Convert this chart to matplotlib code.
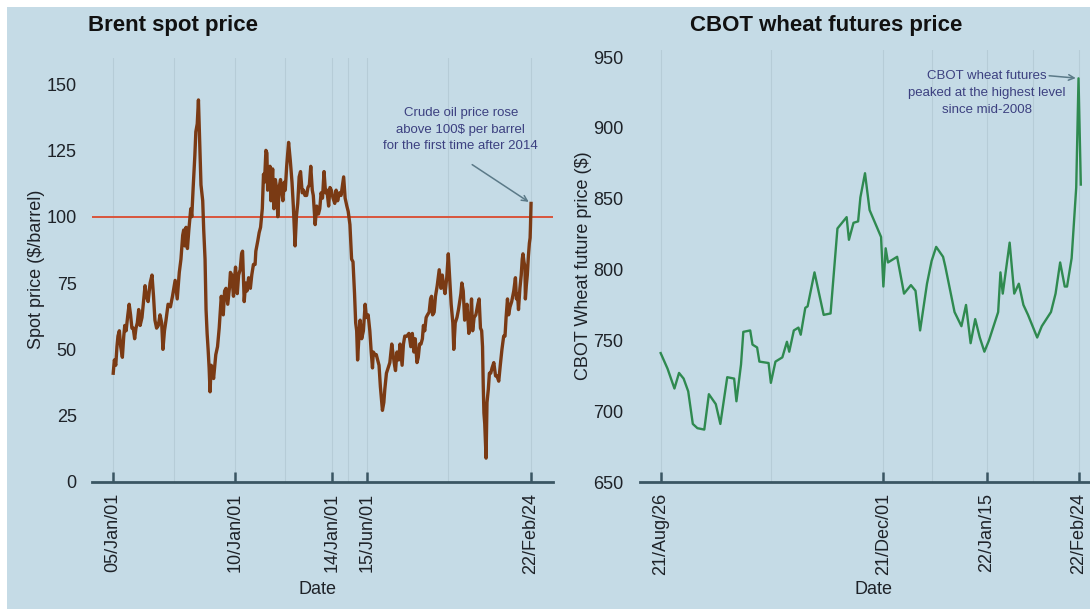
import matplotlib
matplotlib.use("Agg")
import matplotlib.pyplot as plt
from matplotlib.patches import Rectangle
import pandas as pd

plt.rcParams['font.family'] = ['Liberation Sans', 'DejaVu Sans']

# ---------------- data ----------------
brent_dates = [
    "2005-01-03", "2005-01-20", "2005-02-10", "2005-02-28", "2005-03-15", "2005-04-05", "2005-04-25",
    "2005-05-20", "2005-06-10", "2005-06-25", "2005-07-15", "2005-08-10", "2005-08-30", "2005-09-20",
    "2005-10-10", "2005-10-30", "2005-11-20", "2005-12-10", "2005-12-30",
    "2006-01-20", "2006-02-10", "2006-03-10", "2006-04-10", "2006-04-25", "2006-05-15", "2006-06-10",
    "2006-07-10", "2006-08-07", "2006-08-30", "2006-09-20", "2006-10-15", "2006-11-10", "2006-12-05",
    "2006-12-30",
    "2007-01-18", "2007-02-10", "2007-03-05", "2007-04-05", "2007-05-10", "2007-06-10", "2007-07-20",
    "2007-08-20", "2007-09-20", "2007-10-15", "2007-11-10", "2007-11-25", "2007-12-10", "2007-12-30",
    "2008-01-20", "2008-02-10", "2008-03-10", "2008-03-25", "2008-04-15", "2008-05-10", "2008-05-25",
    "2008-06-15", "2008-07-03", "2008-07-20", "2008-08-10", "2008-09-05", "2008-09-20", "2008-10-10",
    "2008-10-25", "2008-11-10", "2008-11-25", "2008-12-10", "2008-12-24",
    "2009-01-10", "2009-01-25", "2009-02-15", "2009-03-05", "2009-03-20", "2009-04-15", "2009-05-10",
    "2009-06-10", "2009-07-10", "2009-07-30", "2009-08-20", "2009-09-15", "2009-10-10", "2009-10-25",
    "2009-11-15", "2009-12-10", "2009-12-30",
    "2010-01-10", "2010-02-05", "2010-02-25", "2010-03-20", "2010-04-10", "2010-04-25", "2010-05-20",
    "2010-06-10", "2010-06-30", "2010-07-25", "2010-08-20", "2010-09-10", "2010-10-05", "2010-10-30",
    "2010-11-10", "2010-12-10", "2010-12-30",
    "2011-01-20", "2011-02-15", "2011-03-05", "2011-03-20", "2011-04-10", "2011-04-25", "2011-05-06",
    "2011-05-25", "2011-06-10", "2011-06-25", "2011-07-20", "2011-08-08", "2011-08-30", "2011-09-20",
    "2011-10-05", "2011-10-25", "2011-11-15", "2011-12-05", "2011-12-20",
    "2012-01-10", "2012-01-25", "2012-02-15", "2012-03-05", "2012-03-15", "2012-04-10", "2012-05-05",
    "2012-05-25", "2012-06-20", "2012-07-10", "2012-07-30", "2012-08-20", "2012-09-10", "2012-10-05",
    "2012-10-25", "2012-11-15", "2012-12-10", "2012-12-30",
    "2013-01-20", "2013-02-10", "2013-03-05", "2013-03-20", "2013-04-17", "2013-05-10", "2013-06-05",
    "2013-06-25", "2013-07-15", "2013-08-05", "2013-08-28", "2013-09-20", "2013-10-10", "2013-11-05",
    "2013-11-25", "2013-12-15",
    "2014-01-10", "2014-02-05", "2014-02-25", "2014-03-20", "2014-04-15", "2014-05-10", "2014-06-18",
    "2014-07-10", "2014-08-05", "2014-08-25", "2014-09-20", "2014-10-15", "2014-11-05", "2014-11-28",
    "2014-12-15", "2014-12-30",
    "2015-01-13", "2015-02-05", "2015-02-20", "2015-03-15", "2015-04-10", "2015-05-06", "2015-05-25",
    "2015-06-20", "2015-07-15", "2015-08-05", "2015-08-24", "2015-09-05", "2015-10-01", "2015-10-20",
    "2015-11-10", "2015-11-30", "2015-12-20",
    "2016-01-20", "2016-02-10", "2016-02-25", "2016-03-20", "2016-04-15", "2016-05-10", "2016-06-08",
    "2016-06-28", "2016-07-20", "2016-08-03", "2016-08-25", "2016-09-20", "2016-10-10", "2016-11-10",
    "2016-11-30", "2016-12-20",
    "2017-01-20", "2017-02-20", "2017-03-20", "2017-04-12", "2017-05-05", "2017-05-25", "2017-06-21",
    "2017-07-10", "2017-07-30", "2017-08-20", "2017-09-10", "2017-09-25", "2017-10-15", "2017-11-05",
    "2017-11-25", "2017-12-20",
    "2018-01-10", "2018-01-25", "2018-02-10", "2018-03-05", "2018-03-25", "2018-04-20", "2018-05-20",
    "2018-06-15", "2018-07-05", "2018-07-25", "2018-08-15", "2018-09-10", "2018-10-03", "2018-10-25",
    "2018-11-15", "2018-12-10", "2018-12-24",
    "2019-01-15", "2019-02-10", "2019-03-05", "2019-04-10", "2019-04-24", "2019-05-15", "2019-06-05",
    "2019-06-25", "2019-07-10", "2019-08-07", "2019-08-30", "2019-09-16", "2019-09-25", "2019-10-03",
    "2019-10-25", "2019-11-20", "2019-12-20",
    "2020-01-08", "2020-01-28", "2020-02-15", "2020-02-28", "2020-03-10", "2020-03-20", "2020-04-01",
    "2020-04-21", "2020-05-05", "2020-05-25", "2020-06-10", "2020-06-30", "2020-07-20", "2020-08-15",
    "2020-09-10", "2020-10-01", "2020-10-28", "2020-11-20", "2020-12-15",
    "2021-01-10", "2021-01-30", "2021-02-15", "2021-03-08", "2021-03-25", "2021-04-15", "2021-05-10",
    "2021-06-10", "2021-06-25", "2021-07-05", "2021-07-20", "2021-08-05", "2021-08-20", "2021-09-10",
    "2021-09-30", "2021-10-15", "2021-10-26", "2021-11-10", "2021-11-25", "2021-12-01", "2021-12-15",
    "2021-12-30",
    "2022-01-15", "2022-01-30", "2022-02-10", "2022-02-15", "2022-02-24",
]
brent_price = [
    41, 46, 44, 51, 55, 57, 51, 47, 55, 59, 57, 63, 67, 63, 58, 58, 54, 58, 60,
    65, 59, 62, 70, 74, 70, 68, 75, 78, 70, 61, 58, 59, 63, 60,
    50, 57, 61, 67, 66, 70, 76, 69, 79, 84, 93, 95, 89, 96,
    88, 95, 103, 100, 111, 123, 132, 135, 144, 130, 112, 106, 95, 84, 65, 56, 50, 43, 34,
    44, 43, 39, 44, 48, 51, 58, 70, 63, 72, 73, 67, 73, 79, 78, 70, 78,
    81, 71, 78, 80, 86, 87, 68, 75, 72, 77, 73, 78, 82, 82, 87, 91, 94,
    96, 103, 116, 113, 125, 124, 110, 115, 119, 106, 118, 103, 114, 110, 100, 111, 114, 109, 106,
    113, 110, 119, 125, 128, 121, 113, 104, 89, 100, 105, 115, 117, 109, 110, 108, 108, 111,
    112, 119, 110, 108, 97, 104, 101, 103, 109, 107, 117, 109, 110, 104, 111, 110,
    107, 105, 110, 106, 109, 108, 115, 107, 104, 102, 97, 84, 83, 71, 60, 57,
    46, 56, 61, 54, 57, 67, 62, 63, 57, 49, 43, 49, 48, 48, 46, 44, 36,
    27, 30, 35, 41, 43, 45, 52, 48, 44, 42, 49, 46, 52, 44, 52, 55,
    55, 56, 51, 56, 49, 54, 45, 47, 52, 52, 54, 59, 57, 62, 63, 64,
    69, 70, 63, 64, 70, 74, 80, 73, 78, 74, 71, 77, 86, 76, 67, 60, 50,
    60, 62, 65, 71, 75, 72, 61, 65, 67, 56, 60, 69, 63, 57, 62, 63, 67,
    69, 58, 57, 51, 36, 26, 22, 9, 30, 35, 41, 41, 43, 45, 40, 40, 38, 44, 50,
    55, 55, 62, 69, 63, 66, 68, 72, 75, 77, 69, 71, 65, 73, 78, 84, 86, 83, 81, 69, 74, 78,
    85, 90, 92, 96, 105,
]

wheat_dates = [
    "2021-08-26", "2021-08-29", "2021-09-01", "2021-09-03", "2021-09-05", "2021-09-07", "2021-09-09",
    "2021-09-11", "2021-09-14", "2021-09-16", "2021-09-19", "2021-09-21", "2021-09-24", "2021-09-27",
    "2021-09-28", "2021-09-30", "2021-10-01", "2021-10-04", "2021-10-05", "2021-10-07", "2021-10-08",
    "2021-10-12", "2021-10-13", "2021-10-15", "2021-10-18", "2021-10-20", "2021-10-21", "2021-10-23",
    "2021-10-25", "2021-10-26", "2021-10-28", "2021-10-29", "2021-11-01", "2021-11-05", "2021-11-08",
    "2021-11-11", "2021-11-15", "2021-11-16", "2021-11-18", "2021-11-20", "2021-11-21", "2021-11-23",
    "2021-11-25", "2021-11-30", "2021-12-01", "2021-12-02", "2021-12-03", "2021-12-07", "2021-12-10",
    "2021-12-13", "2021-12-15", "2021-12-17", "2021-12-20", "2021-12-22", "2021-12-24", "2021-12-27",
    "2021-12-28", "2021-12-30", "2022-01-01", "2022-01-04", "2022-01-06", "2022-01-08", "2022-01-10",
    "2022-01-12", "2022-01-14", "2022-01-16", "2022-01-18", "2022-01-20", "2022-01-21", "2022-01-22",
    "2022-01-25", "2022-01-27", "2022-01-29", "2022-01-31", "2022-02-02", "2022-02-04", "2022-02-06",
    "2022-02-08", "2022-02-10", "2022-02-12", "2022-02-14", "2022-02-16", "2022-02-18", "2022-02-19",
    "2022-02-21", "2022-02-23", "2022-02-24", "2022-02-25",
]
wheat_price = [
    741, 730, 716, 727, 723, 714, 691,
    688, 687, 712, 705, 691, 724, 723,
    707, 733, 756, 757, 747, 745, 735,
    734, 720, 735, 738, 749, 742, 757,
    759, 754, 773, 774, 798, 768, 769,
    829, 837, 821, 833, 834, 851, 868,
    842, 823, 788, 815, 805, 809, 783,
    789, 785, 757, 790, 806, 816, 809,
    802, 786, 770, 760, 775, 748, 765,
    752, 742, 750, 760, 770, 798, 783,
    819, 783, 790, 775, 768, 760, 752,
    760, 765, 770, 783, 805, 788, 788,
    808, 858, 935, 860,
]

brent_ticks = ["2005-01-01", "2010-01-01", "2014-01-01", "2015-06-01", "2022-02-24"]
brent_ticklabels = ["05/Jan/01", "10/Jan/01", "14/Jan/01", "15/Jun/01", "22/Feb/24"]
brent_grid = ["2007-07-01", "2012-01-20", "2014-08-20", "2018-09-27"]
wheat_ticks = ["2021-08-26", "2021-12-01", "2022-01-15", "2022-02-24"]
wheat_ticklabels = ["21/Aug/26", "21/Dec/01", "22/Jan/15", "22/Feb/24"]
wheat_grid = ["2021-10-13", "2021-12-22", "2022-02-04"]

threshold = 100

# ---------------- styling ----------------
BG = '#c5dbe6'
AXC = '#3a5663'
TXT = '#1e2228'
ANN = '#3c4080'
GRIDC = '#b6ccd7'

W, H = 1090, 609
fig = plt.figure(figsize=(W / 100, H / 100), dpi=100)
fig.patch.set_facecolor(BG)
fig.add_artist(Rectangle((0, 1 - 7 / H), 1, 7 / H, transform=fig.transFigure,
                         facecolor='white', edgecolor='none', zorder=10))
fig.add_artist(Rectangle((0, 0), 7 / W, 1, transform=fig.transFigure,
                         facecolor='white', edgecolor='none', zorder=10))

def px_axes(x0, x1, y_top, y_bot):
    return [x0 / W, (H - y_bot) / H, (x1 - x0) / W, (y_bot - y_top) / H]

ax1 = fig.add_axes(px_axes(92, 553, 57.5, 482))
ax2 = fig.add_axes(px_axes(640, 1090, 50, 482))

bd = pd.to_datetime(brent_dates)
wd = pd.to_datetime(wheat_dates)

ax1.plot(bd, brent_price, color='#7a3a14', lw=2.4, zorder=3)
ax1.axhline(threshold, color='#d9553c', lw=1.4, zorder=2)
ax2.plot(wd, wheat_price, color='#2f8a50', lw=1.7, zorder=3)

ax1.set_xlim(pd.Timestamp("2004-02-20"), pd.Timestamp("2023-01-19"))
ax1.set_ylim(0, 160)
ax2.set_xlim(pd.Timestamp("2021-08-17"), pd.Timestamp("2022-03-01"))
ax2.set_ylim(650, 955)

for ax, ticks, labels, grid in [(ax1, brent_ticks, brent_ticklabels, brent_grid),
                                (ax2, wheat_ticks, wheat_ticklabels, wheat_grid)]:
    ax.set_facecolor('none')
    for s in ['top', 'right', 'left']:
        ax.spines[s].set_visible(False)
    ax.spines['bottom'].set_color(AXC)
    ax.spines['bottom'].set_linewidth(2.0)
    ax.spines['bottom'].set_zorder(4)
    ax.set_xticks(pd.to_datetime(ticks))
    ax.set_xticklabels(labels, rotation=90, fontsize=13, color=TXT)
    ax.set_xticks(pd.to_datetime(grid), minor=True)
    ax.tick_params(axis='x', which='major', direction='in', length=7, width=1.8,
                   color=AXC, pad=8)
    ax.tick_params(axis='x', which='minor', length=0)
    ax.tick_params(axis='y', length=0, labelsize=13, labelcolor=TXT)
    ax.grid(True, which='both', axis='x', color=GRIDC, lw=0.8, zorder=0)
    ax.set_xlabel('Date', fontsize=13, color=TXT)
    ax.xaxis.label.set_va('center')

ax1.tick_params(axis='y', pad=11)
ax2.tick_params(axis='y', pad=12)
ax1.set_yticks([0, 25, 50, 75, 100, 125, 150])
ax2.set_yticks([650, 700, 750, 800, 850, 900, 950])

ax1.set_ylabel('Spot price ($/barrel)', fontsize=13, color=TXT)
ax2.set_ylabel('CBOT Wheat future price ($)', fontsize=13, color=TXT)
ax1.yaxis.label.set_va('center')
ax2.yaxis.label.set_va('center')
ax1.yaxis.set_label_coords((37 - 92) / 461, 0.5)
ax2.yaxis.set_label_coords((584 - 640) / 450, 0.5)
ax1.xaxis.set_label_coords(0.49, (482 - 590) / (482 - 57.5))
ax2.xaxis.set_label_coords(0.52, (482 - 590) / (482 - 50))

fig.text(88 / W, 1 - 26 / H, 'Brent spot price', ha='left', va='center',
         fontsize=16, fontweight='bold', color='#111111')
fig.text(826 / W, 1 - 26 / H, 'CBOT wheat futures price', ha='center', va='center',
         fontsize=16, fontweight='bold', color='#111111')

# annotations
ax1.text(pd.Timestamp("2019-04-08"), 132.7,
         'Crude oil price rose\nabove 100$ per barrel\nfor the first time after 2014',
         ha='center', va='center', fontsize=9.5, color=ANN, linespacing=1.5,
         multialignment='center')
ax1.annotate('', xy=(pd.Timestamp(brent_dates[-1]), brent_price[-1]),
             xytext=(pd.Timestamp("2019-08-22"), 120.2),
             arrowprops=dict(arrowstyle='->', color='#5b7a88', lw=1.1))

ax2.text(pd.Timestamp("2022-01-15"), 924.7,
         'CBOT wheat futures\npeaked at the highest level\nsince mid-2008',
         ha='center', va='center', fontsize=9.5, color=ANN, linespacing=1.55,
         multialignment='center')
ax2.annotate('', xy=(pd.Timestamp("2022-02-24"), 935),
             xytext=(pd.Timestamp("2022-02-10"), 937),
             arrowprops=dict(arrowstyle='->', color='#5b7a88', lw=1.1))

fig.savefig('out.png', dpi=100, facecolor=fig.get_facecolor())
